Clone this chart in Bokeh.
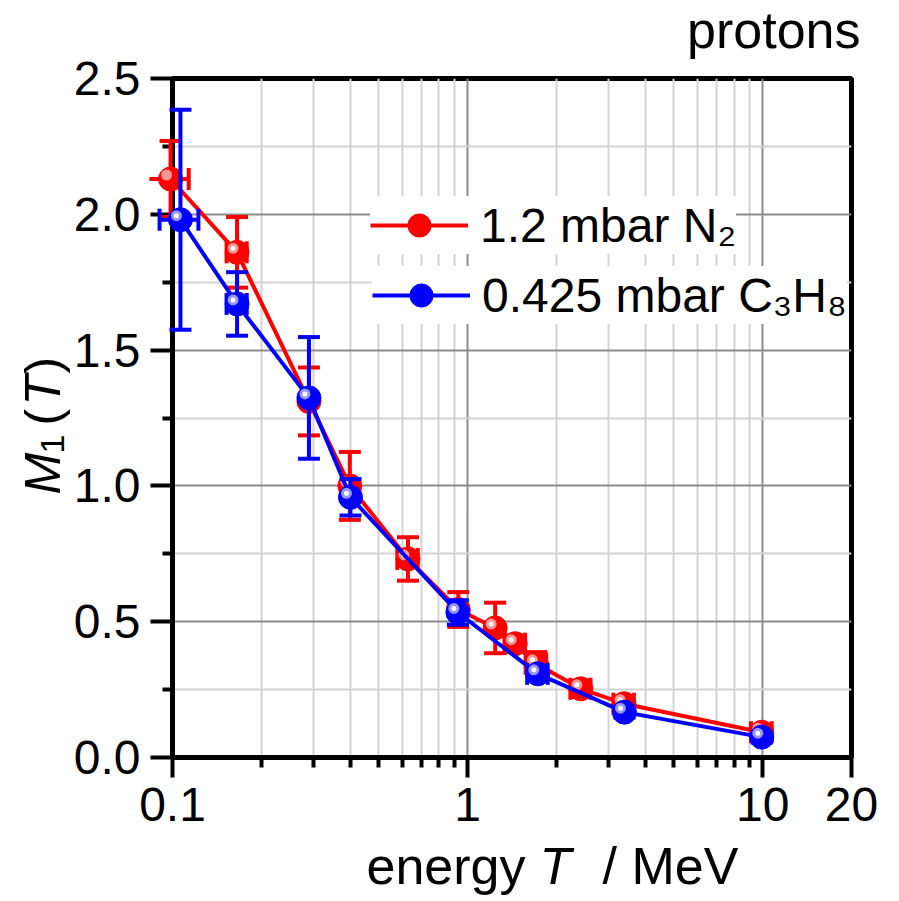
import numpy as np
from bokeh.plotting import figure
from bokeh.models import (FixedTicker, Legend, LegendItem, PrintfTickFormatter,
                          Range1d, ColumnDataSource)
from bokeh.core.properties import value
from bokeh.embed import file_html
from bokeh.resources import INLINE

# ---------------- data ----------------
n2_label = "1.2 mbar N\u2082"
n2_energy = [0.0985, 0.1655, 0.290, 0.399, 0.628, 0.93, 1.24, 1.45, 1.71, 2.42, 3.39, 9.93]
n2_m1 = [2.13, 1.86, 1.311, 1.0, 0.731, 0.545, 0.477, 0.419, 0.345, 0.253, 0.198, 0.093]
n2_m1_err = [0.14, 0.13, 0.125, 0.125, 0.08, 0.064, 0.093, 0.03, 0.043, 0.03, 0.025, 0.02]
n2_energy_err = [0.015, 0.013, 0.01, 0.012, 0.05, 0.03, 0.04, 0.116, 0.137, 0.19, 0.27, 0.8]

c3h8_label = "0.425 mbar C\u2083H\u2088"
c3h8_energy = [0.1064, 0.1655, 0.290, 0.401, 0.927, 1.73, 3.40, 9.93]
c3h8_m1 = [1.98, 1.67, 1.324, 0.958, 0.534, 0.308, 0.167, 0.075]
c3h8_m1_err = [0.405, 0.117, 0.224, 0.067, 0.045, 0.02, 0.02, 0.02]
c3h8_energy_err = [0.016, 0.013, 0.01, 0.012, 0.03, 0.138, 0.1, 0.3]

x_major_ticks = [0.1, 1, 10, 20]
x_tick_labels = ["0.1", "1", "10", "20"]
x_minor_ticks = [0.2, 0.3, 0.4, 0.5, 0.6, 0.7, 0.8, 0.9, 2, 3, 4, 5, 6, 7, 8, 9]
y_major_ticks = [0.0, 0.5, 1.0, 1.5, 2.0, 2.5]
y_minor_ticks = [0.25, 0.75, 1.25, 1.75, 2.25]
title_text = "protons"

# ---------------- layout ----------------
W, H = 891, 899
ML, MT = 172, 78
MR, MB = W - 851, H - 757
X_START, X_END = 0.1, 20
Y_START, Y_END = 0.0, 2.5
FONT = "Liberation Sans"
BASE_SHIFT = 20  # compensation of the text baseline in the svg output

p = figure(width=W, height=H, x_axis_type="log",
           x_range=Range1d(X_START, X_END), y_range=Range1d(Y_START, Y_END),
           output_backend="svg", toolbar_location=None,
           min_border_left=ML, min_border_right=MR, min_border_top=MT, min_border_bottom=MB)
p.background_fill_color = "white"
p.border_fill_color = "white"
p.outline_line_color = "black"
p.outline_line_width = 5

xt = FixedTicker(ticks=x_major_ticks, minor_ticks=x_minor_ticks)
yt = FixedTicker(ticks=y_major_ticks, minor_ticks=y_minor_ticks)
p.xaxis.ticker = xt
p.yaxis.ticker = yt
p.xgrid.ticker = xt
p.ygrid.ticker = yt
p.xaxis.major_label_overrides = dict(zip(x_major_ticks, x_tick_labels))
p.yaxis.formatter = PrintfTickFormatter(format="%.1f")

for g in (p.xgrid[0], p.ygrid[0]):
    g.grid_line_color = "#8c8c8c"
    g.grid_line_width = 2
    g.minor_grid_line_color = "#d4d4d4"
    g.minor_grid_line_width = 2

for ax in (p.xaxis[0], p.yaxis[0]):
    ax.axis_line_width = 5
    ax.axis_line_color = "black"
    ax.major_tick_line_width = 4
    ax.minor_tick_line_width = 4
    ax.major_tick_in = 0
    ax.minor_tick_in = 0
    ax.minor_tick_out = 10
    ax.major_label_text_font = FONT
    ax.major_label_text_font_size = "48px"
    ax.major_label_text_color = "black"
p.xaxis.major_tick_out = 20
p.yaxis.major_tick_out = 22
p.yaxis.major_label_standoff = 10
p.xaxis.major_label_standoff = 10

frame_w = W - ML - MR
frame_h = H - MT - MB
px_per_decade = frame_w / np.log10(X_END / X_START)
px_per_unit = frame_h / (Y_END - Y_START)


def draw_series(x, y, xerr, yerr, color, light):
    x = np.asarray(x, float); y = np.asarray(y, float)
    xerr = np.asarray(xerr, float); yerr = np.asarray(yerr, float)
    src = ColumnDataSource(dict(x=x, y=y, ylo=y - yerr, yhi=y + yerr,
                                xlo=x - xerr, xhi=x + xerr,
                                hx=x * 10 ** (-4.0 / px_per_decade),
                                hy=y + 4.0 / px_per_unit))
    rs = []
    rs.append(p.segment(x0="x", y0="ylo", x1="x", y1="yhi", source=src, line_color=color, line_width=4))
    rs.append(p.segment(x0="xlo", y0="y", x1="xhi", y1="y", source=src, line_color=color, line_width=4))
    for cx, cy, ang in (("x", "ylo", 0), ("x", "yhi", 0), ("xlo", "y", np.pi / 2), ("xhi", "y", np.pi / 2)):
        rs.append(p.scatter(x=cx, y=cy, source=src, marker="dash", size=22, angle=ang,
                            line_color=color, line_width=4))
    line = p.line("x", "y", source=src, line_color=color, line_width=4)
    marker = p.scatter("x", "y", source=src, marker="circle", size=24,
                       fill_color=color, line_color=color, line_width=1)
    h1 = p.scatter("hx", "hy", source=src, marker="circle", size=11,
                   fill_color=light, line_color=None, fill_alpha=0.85)
    h2 = p.scatter("hx", "hy", source=src, marker="circle", size=5,
                   fill_color="white", line_color=None)
    rs += [line, marker, h1, h2]
    for r in rs:
        r.level = "overlay"
    return line, marker


n2_line, n2_marker = draw_series(n2_energy, n2_m1, n2_energy_err, n2_m1_err, "#ff0000", "#ffb0b0")
c_line, c_marker = draw_series(c3h8_energy, c3h8_m1, c3h8_energy_err, c3h8_m1_err, "#0000ff", "#b0b0ff")


def make_legend(label, renderers, loc):
    leg = Legend(items=[LegendItem(label=label, renderers=renderers)], location=loc,
                 background_fill_color="white", background_fill_alpha=1.0,
                 border_line_color=None, padding=9, margin=0, spacing=0,
                 glyph_width=98, glyph_height=58, label_standoff=12,
                 label_text_font=FONT, label_text_font_size="48px",
                 label_text_color="black")
    p.add_layout(leg)


make_legend(n2_label, [n2_line, n2_marker], (198, 503))
make_legend(c3h8_label, [c_line, c_marker], (200, 433))


def add_text(text, dx, dy, size, style="normal", angle=0.0, align="left"):
    # texts anchored at the frame's bottom-left corner, offset in screen pixels
    if angle == 0.0:
        dy -= BASE_SHIFT
    else:
        dx -= BASE_SHIFT
    r = p.text(x=[X_START], y=[Y_START], text=[text], x_offset=dx, y_offset=dy,
               text_font=value(FONT), text_font_size=value(size),
               text_font_style=style, text_color="black", angle=angle,
               text_align=align, text_baseline="alphabetic")
    r.level = "overlay"


# title
add_text(title_text, 688, -708, "52px", align="right")

# x axis title: energy T / MeV
add_text("energy", 194, 128, "52px")
add_text("T", 367, 128, "52px", style="italic")
add_text("/ MeV", 430, 128, "52px")

# y axis title: M1 (T)
ang = np.pi / 2
add_text("M", -110, -263, "50px", style="italic", angle=ang)
add_text("1", -100, -304, "34px", angle=ang)
add_text("(", -110, -332, "50px", angle=ang)
add_text("T", -110, -352, "50px", style="italic", angle=ang)
add_text(")", -110, -384, "50px", angle=ang)

open("out.html", "w").write(file_html(p, INLINE))
